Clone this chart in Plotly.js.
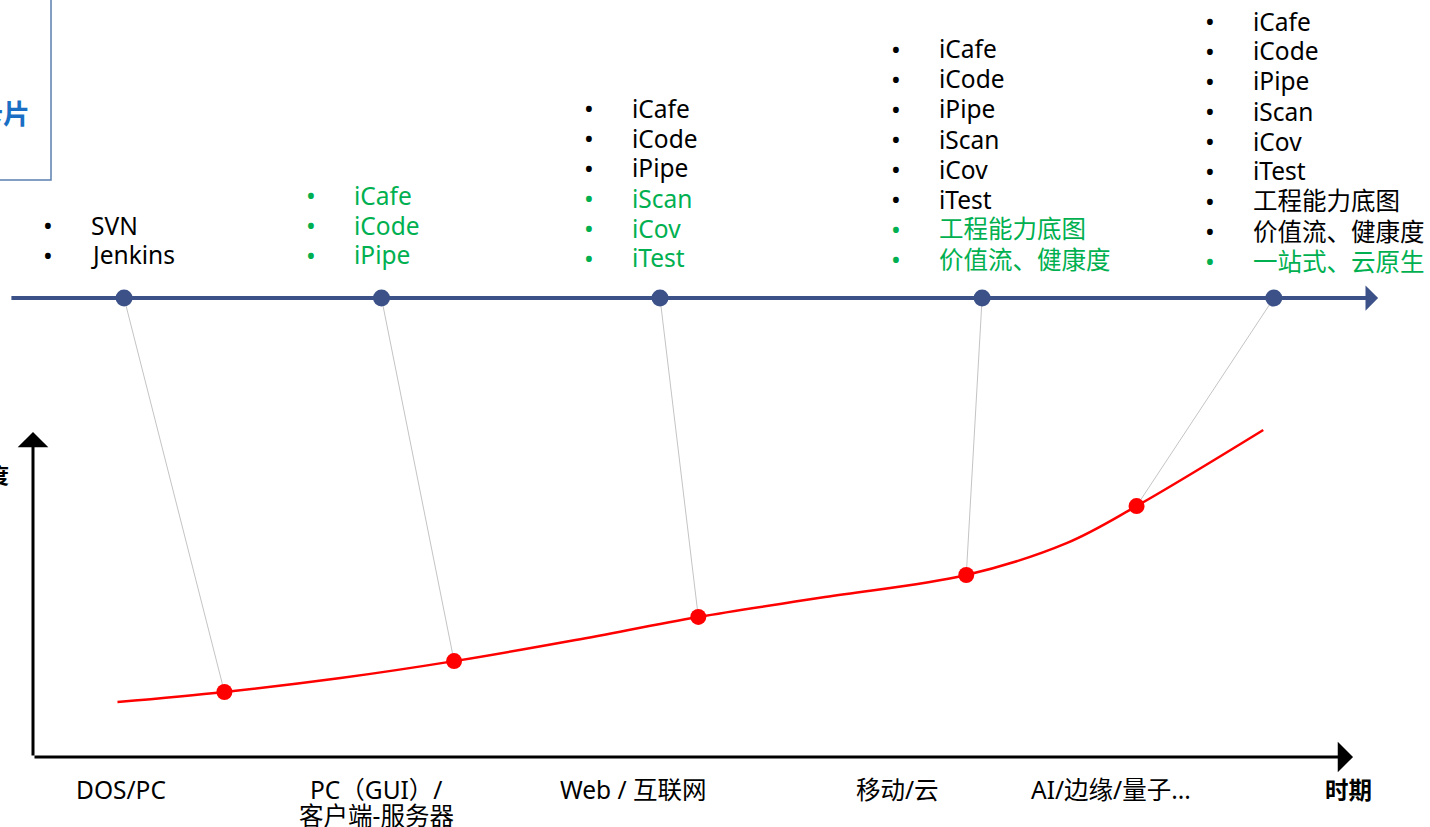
<!DOCTYPE html>
<html><head><meta charset="utf-8">
<script src="https://cdn.plot.ly/plotly-3.0.1.min.js"></script>
<style>html,body{margin:0;padding:0;background:#fff;}#chart{width:1430px;height:827px;}</style>
</head><body><div id="chart"></div>
<script>
// ---------- DATA ----------
// eras (bottom axis labels)
const eraLabels = ["DOS/PC", "PC（GUI）/\n客户端-服务器", "Web / 互联网", "移动/云", "AI/边缘/量子..."];
const eraLabelX = [6.7, 26.0, 45.5, 65.5, 81.7];          // time units
// complexity curve (time units 0-100, complexity 0-100)
const curveX = [6.4, 14.5, 23.3, 31.9, 41.1, 50.4, 60.0, 70.7, 78.3, 83.6, 93.2];
const curveY = [16.9, 20.0, 24.3, 29.5, 36.0, 43.1, 49.2, 56.0, 65.8, 77.2, 100.6];
// milestone points on curve
const milestoneX = [14.5, 31.9, 50.4, 70.7, 83.6];
const milestoneY = [20.0, 29.5, 43.1, 56.0, 77.2];
// timeline nodes (top)
const timelineX = [6.9, 26.4, 47.5, 71.9, 94.0];
const timelineLevel = 141.2;
// tool lists per node; newCount = number of trailing new (green) items
const toolLists = [
  ["SVN", "Jenkins"],
  ["iCafe", "iCode", "iPipe"],
  ["iCafe", "iCode", "iPipe", "iScan", "iCov", "iTest"],
  ["iCafe", "iCode", "iPipe", "iScan", "iCov", "iTest", "工程能力底图", "价值流、健康度"],
  ["iCafe", "iCode", "iPipe", "iScan", "iCov", "iTest", "工程能力底图", "价值流、健康度", "一站式、云原生"]
];
const newCounts = [0, 3, 3, 2, 1];

// ---------- LAYOUT HELPERS ----------
const W = 1430, H = 827;
const px = v => v / W;
const py = v => 1 - v / H;
const FONT = "Noto Sans, Noto Sans CJK SC, sans-serif";
const GREEN = "#00b050", NAVY = "#3b5188";

const traces = [];
// connectors
for (let i = 0; i < timelineX.length; i++) {
  traces.push({x: [timelineX[i], milestoneX[i]], y: [timelineLevel, milestoneY[i]], mode: "lines",
    line: {color: "#c4c4c4", width: 1}, hoverinfo: "skip", showlegend: false});
}
traces.push({x: curveX, y: curveY, mode: "lines", line: {color: "#ff0000", width: 2.5, shape: "spline", smoothing: 1},
  hoverinfo: "skip", showlegend: false});
traces.push({x: milestoneX, y: milestoneY, mode: "markers", marker: {color: "#ff0000", size: 16},
  hoverinfo: "skip", showlegend: false});
traces.push({x: timelineX, y: timelineX.map(() => timelineLevel), mode: "markers", marker: {color: NAVY, size: 17},
  hoverinfo: "skip", showlegend: false});

const ann = [];
// axes arrows
ann.push({x: 100, y: 0, ax: 0, ay: 0, xref: "x", yref: "y", axref: "x", ayref: "y", text: "", showarrow: true,
  arrowhead: 1, arrowsize: 1.7, arrowwidth: 3, arrowcolor: "#000"});
ann.push({x: 0, y: 100, ax: 0, ay: 0, xref: "x", yref: "y", axref: "x", ayref: "y", text: "", showarrow: true,
  arrowhead: 1, arrowsize: 1.7, arrowwidth: 3, arrowcolor: "#000"});
// timeline arrow
ann.push({x: 101.9, y: timelineLevel, ax: -1.75, ay: timelineLevel, xref: "x", yref: "y", axref: "x", ayref: "y",
  text: "", showarrow: true, arrowhead: 1, arrowsize: 1.05, arrowwidth: 4, arrowcolor: NAVY});

// era labels
eraLabels.forEach((lab, i) => {
  lab.split("\n").forEach((line, j) => {
    ann.push({x: eraLabelX[i], y: py(789 + j * 26), xref: "x", yref: "paper", text: line, showarrow: false,
      xanchor: "center", yanchor: "middle", font: {family: FONT, size: 24.5, color: "#000"}});
  });
});
ann.push({x: px(1348), y: py(790), xref: "paper", yref: "paper", text: "<b>时期</b>", showarrow: false,
  xanchor: "center", yanchor: "middle", font: {family: FONT, size: 23.5, color: "#000"}});
ann.push({x: px(11), y: py(475), xref: "paper", yref: "paper", text: "<b>复杂度</b>", showarrow: false,
  xanchor: "right", yanchor: "middle", font: {family: FONT, size: 21, color: "#000"}});
ann.push({x: px(32), y: py(114), xref: "paper", yref: "paper", text: "<b>卡片</b>", showarrow: false,
  xanchor: "right", yanchor: "middle", font: {family: FONT, size: 27, color: "#1a6fc4"}});

// tool lists
const bulletX = [48, 311, 589, 896, 1210];
const bottomY = [255, 255, 258, 259, 261];
const spacing = 30;
toolLists.forEach((items, g) => {
  const n = items.length;
  items.forEach((t, i) => {
    const y = bottomY[g] - (n - 1 - i) * spacing;
    const col = i >= n - newCounts[g] ? GREEN : "#000";
    ann.push({x: px(bulletX[g]), y: py(y), xref: "paper", yref: "paper", text: "•", showarrow: false,
      xanchor: "center", yanchor: "middle", font: {family: FONT, size: 26, color: col}});
    ann.push({x: px(bulletX[g] + 41), y: py(y), xref: "paper", yref: "paper", text: t, showarrow: false,
      xanchor: "left", yanchor: "middle", font: {family: FONT, size: 24.5, color: col}});
  });
});

const layout = {
  width: W, height: H, margin: {l: 0, r: 0, t: 0, b: 0}, paper_bgcolor: "#fff", plot_bgcolor: "#fff",
  showlegend: false,
  xaxis: {range: [-2.5, 105.83], visible: false, fixedrange: true},
  yaxis: {range: [-21.54, 232.92], visible: false, fixedrange: true},
  annotations: ann,
  shapes: [{type: "rect", xref: "paper", yref: "paper", x0: -0.01, x1: px(51), y0: py(180), y1: 1.01,
    line: {color: "#5a7fae", width: 1.5}, fillcolor: "rgba(0,0,0,0)"}]
};
Plotly.newPlot("chart", traces, layout, {displayModeBar: false, staticPlot: true});
</script></body></html>
